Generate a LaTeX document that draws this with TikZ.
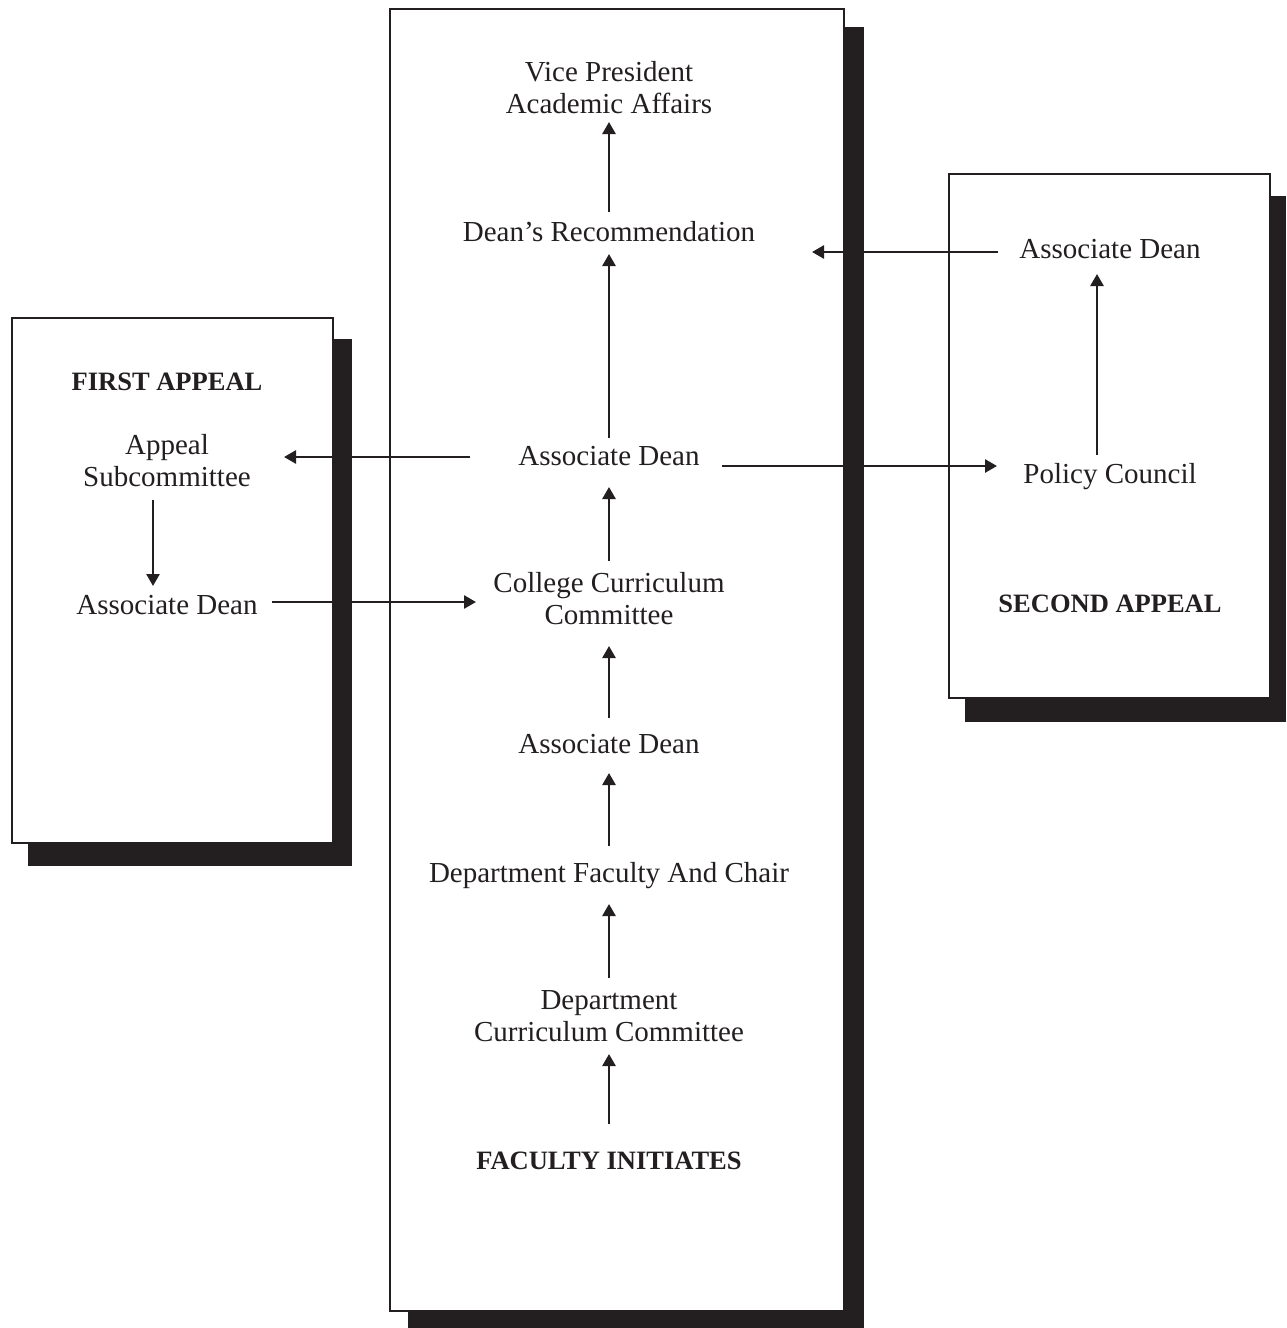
\documentclass[tikz,border=0pt]{standalone}
\usepackage{fontspec}
\setmainfont{Liberation Serif}
\usetikzlibrary{arrows.meta,calc}
\definecolor{ink}{RGB}{35,31,32}
\begin{document}
\begin{tikzpicture}[x=1pt,y=-1pt,
  lbl/.style={anchor=base,align=center,inner sep=0pt,text=ink,font=\fontsize{29}{31.5}\selectfont},
  head/.style={lbl,font=\fontsize{26.5}{31.5}\selectfont\bfseries},
  arr/.style={draw=ink,line width=2.6pt,-{Triangle[length=12pt,width=13pt]}},
  shadowbox/.style={fill=ink,draw=none},
  panel/.style={fill=white,draw=ink,line width=2.4pt}]
\useasboundingbox (0,0) rectangle (1286,1328);
% shadows
\fill[shadowbox] (28,339) rectangle (352,866);
\fill[shadowbox] (408,27) rectangle (864,1328);
\fill[shadowbox] (965,196) rectangle (1286,722);
% panels
\draw[panel] (12,318) rectangle (333,843);
\draw[panel] (390,9) rectangle (844,1311);
\draw[panel] (949,174) rectangle (1270,698);
% centre column (base anchor = last line of a multi-line node)
\node[lbl] (vp) at (609,113) {Vice President\\Academic Affairs};
\node[lbl] (dr) at (609,241) {Dean’s Recommendation};
\node[lbl] (ad2) at (609,465) {Associate Dean};
\node[lbl] (ccc) at (609,624) {College Curriculum\\Committee};
\node[lbl] (ad1) at (609,753) {Associate Dean};
\node[lbl] (dfc) at (609,882) {Department Faculty And Chair};
\node[lbl] (dcc) at (609,1041) {Department\\Curriculum Committee};
\node[head] (fi) at (609,1169) {FACULTY INITIATES};
% first appeal
\node[head] (fa) at (167,390) {FIRST APPEAL};
\node[lbl] (sub) at (167,486) {Appeal\\Subcommittee};
\node[lbl] (lad) at (167,614) {Associate Dean};
% second appeal
\node[lbl] (rad) at (1110,258) {Associate Dean};
\node[lbl] (pc) at (1110,483) {Policy Council};
\node[head] (sa) at (1110,612) {SECOND APPEAL};
% centre arrows
\draw[arr] ($(fi.base)+(0,-45)$) -- ($(dcc.base)+(0,13)$);
\draw[arr] ($(dcc.base)+(0,-63)$) -- ($(dfc.base)+(0,22)$);
\draw[arr] ($(dfc.base)+(0,-36)$) -- ($(ad1.base)+(0,20)$);
\draw[arr] ($(ad1.base)+(0,-35)$) -- ($(ccc.base)+(0,22)$);
\draw[arr] ($(ccc.base)+(0,-63)$) -- ($(ad2.base)+(0,22)$);
\draw[arr] ($(ad2.base)+(0,-27)$) -- ($(dr.base)+(0,13)$);
\draw[arr] ($(dr.base)+(0,-29)$) -- ($(vp.base)+(0,9)$);
% first appeal arrows
\draw[arr] ($(sub.base)+(-14,14)$) -- ($(lad.base)+(-14,-28)$);
\draw[arr] ($(ad2.base)+(-139,-8)$) -- ($(sub.base)+(117,-29)$);
\draw[arr] ($(lad.base)+(105,-12)$) -- ($(ccc.base)+(-133,-22)$);
% second appeal arrows
\draw[arr] ($(pc.base)+(-13,-28)$) -- ($(rad.base)+(-13,16)$);
\draw[arr] ($(rad.base)+(-112,-6)$) -- ($(dr.base)+(203,11)$);
\draw[arr] ($(ad2.base)+(113,1)$) -- ($(pc.base)+(-113,-17)$);
\end{tikzpicture}
\end{document}
